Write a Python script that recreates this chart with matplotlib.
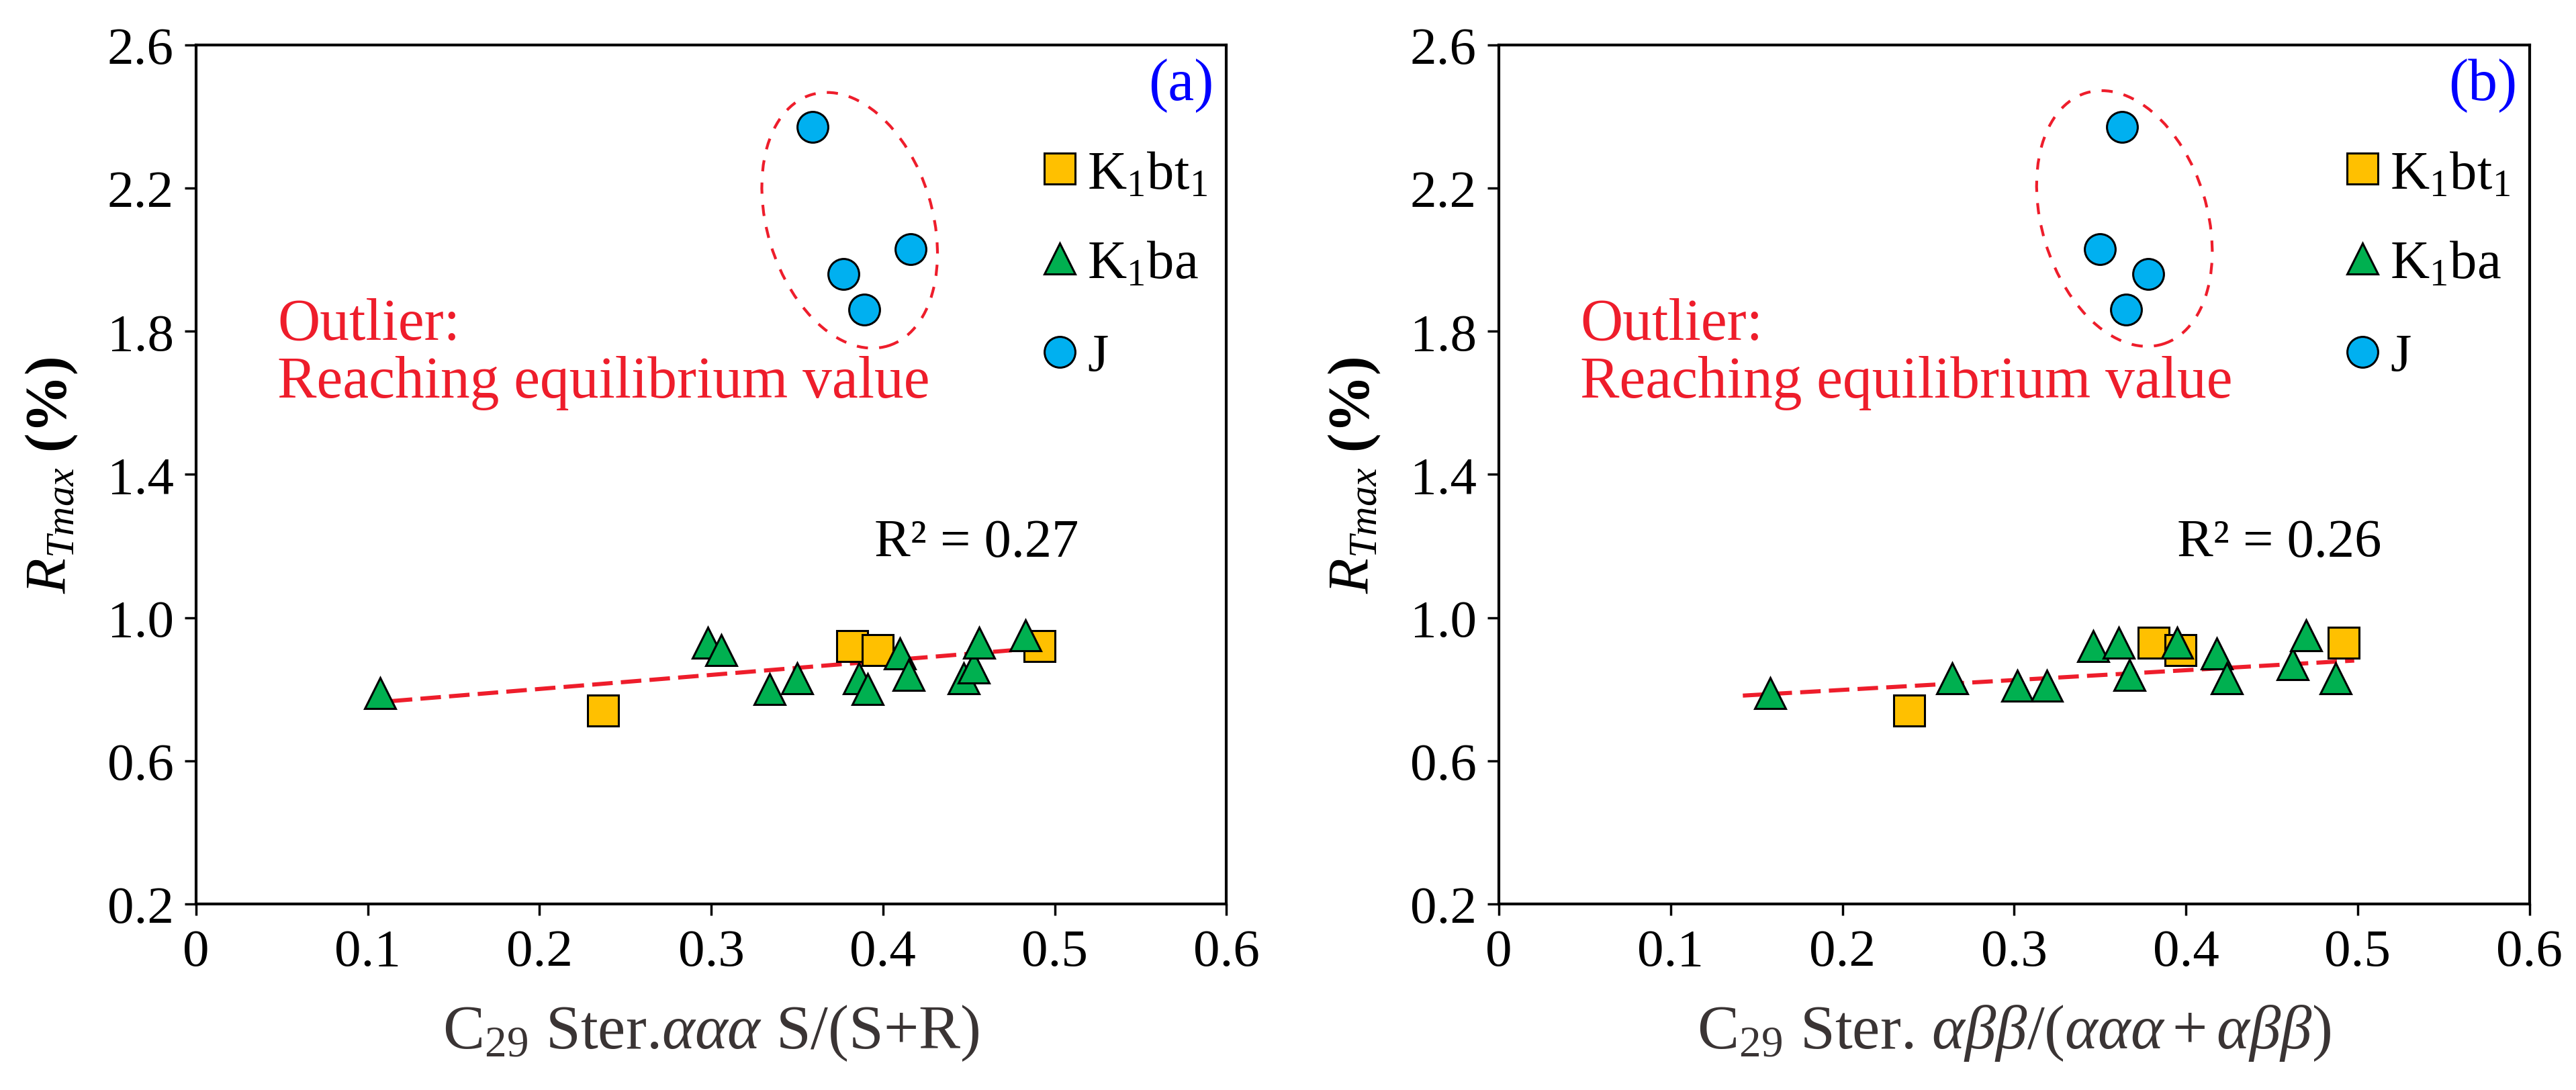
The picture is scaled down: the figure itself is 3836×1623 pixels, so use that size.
import numpy as np
import matplotlib
matplotlib.use("Agg")
import matplotlib.pyplot as plt
from matplotlib.patches import Ellipse
from matplotlib.transforms import ScaledTranslation

plt.rcParams['font.family'] = ['Liberation Serif', 'DejaVu Serif']
plt.rcParams['mathtext.fontset'] = 'custom'
plt.rcParams['mathtext.rm'] = 'Liberation Serif'
plt.rcParams['mathtext.it'] = 'Liberation Serif:italic'
plt.rcParams['mathtext.bf'] = 'Liberation Serif:bold'

# ---- data ----
# panel (a): C29 Ster. aaa S/(S+R)
a_bt_x = [0.237, 0.382, 0.397, 0.491]
a_bt_y = [0.74, 0.92, 0.91, 0.92]
a_ba_x = [0.107, 0.298, 0.306, 0.334, 0.350, 0.386, 0.391, 0.410, 0.415, 0.447, 0.453, 0.456, 0.483]
a_ba_y = [0.79, 0.93, 0.91, 0.80, 0.83, 0.83, 0.80, 0.90, 0.84, 0.83, 0.86, 0.93, 0.95]
a_j_x = [0.359, 0.416, 0.377, 0.389]
a_j_y = [2.37, 2.03, 1.96, 1.86]
a_fit = [0.393, 0.722]        # slope, intercept
a_fit_range = [0.114, 0.475]
a_r2 = "0.27"

# panel (b): C29 Ster. abb/(aaa+abb)
b_bt_x = [0.239, 0.381, 0.397, 0.492]
b_bt_y = [0.74, 0.93, 0.91, 0.93]
b_ba_x = [0.158, 0.264, 0.302, 0.319, 0.346, 0.361, 0.367, 0.395, 0.418, 0.424, 0.462, 0.470, 0.487]
b_ba_y = [0.79, 0.83, 0.81, 0.81, 0.92, 0.93, 0.84, 0.93, 0.90, 0.83, 0.87, 0.95, 0.83]
b_j_x = [0.363, 0.350, 0.378, 0.365]
b_j_y = [2.37, 2.03, 1.96, 1.86]
b_fit = [0.275, 0.743]
b_fit_range = [0.142, 0.498]
b_r2 = "0.26"

x_ticks = [0, 0.1, 0.2, 0.3, 0.4, 0.5, 0.6]
x_ticklabels = ["0", "0.1", "0.2", "0.3", "0.4", "0.5", "0.6"]
y_ticks = [0.2, 0.6, 1.0, 1.4, 1.8, 2.2, 2.6]
y_ticklabels = ["0.2", "0.6", "1.0", "1.4", "1.8", "2.2", "2.6"]

c_sq = '#FFC000'
c_tri = '#00B050'
c_circ = '#00B0F0'
c_red = '#EE1D2B'

fig = plt.figure(figsize=(38.36, 16.24), dpi=100)
ax_a = fig.add_axes([0.0761, 0.1706, 0.4, 0.7876])
ax_b = fig.add_axes([0.5819, 0.1706, 0.4, 0.7876])

ms = 33
mew = 2.2


def draw_panel(ax, bt_x, bt_y, ba_x, ba_y, j_x, j_y, fit, fit_range, r2, ell_c, tag, xlabel):
    xs = np.array(fit_range)
    ax.plot(xs, fit[0] * xs + fit[1], color=c_red, lw=4.4, ls=(0, (5, 2)), zorder=2)
    ax.plot(bt_x, bt_y, 's', ms=ms, mfc=c_sq, mec='black', mew=mew, ls='none', zorder=3)
    ax.plot(ba_x, ba_y, '^', ms=ms, mfc=c_tri, mec='black', mew=mew, ls='none', zorder=4)
    ax.plot(j_x, j_y, 'o', ms=ms, mfc=c_circ, mec='black', mew=mew, ls='none', zorder=5)

    # dashed ellipse round the outliers (size in inches so it keeps its shape)
    trans = fig.dpi_scale_trans + ScaledTranslation(ell_c[0], ell_c[1], ax.transData)
    ax.add_patch(Ellipse((0, 0), 2.46, 3.91, angle=17, transform=trans, fill=False,
                         edgecolor=c_red, lw=3, ls=(0, (4, 4)), zorder=1))

    ax.text(0.079, 0.658, "Outlier:", transform=ax.transAxes, color=c_red, fontsize=63)
    ax.text(0.079, 0.590, "Reaching equilibrium value", transform=ax.transAxes,
            color=c_red, fontsize=63)
    ax.text(0.658, 0.405, "R² = " + r2, transform=ax.transAxes, fontsize=58)
    ax.text(0.988, 0.953, tag, transform=ax.transAxes, color='#0000FF', fontsize=63,
            ha='right', va='center')

    # legend drawn by hand
    leg = [('s', c_sq, r"K$_1$bt$_1$"), ('^', c_tri, r"K$_1$ba"), ('o', c_circ, "J")]
    leg_y = [0.856, 0.751, 0.643]
    leg_base = [0.833, 0.729, 0.621]
    for (m, c, lab), yy, yb in zip(leg, leg_y, leg_base):
        ax.plot([0.838], [yy], m, ms=ms, mfc=c, mec='black', mew=mew,
                transform=ax.transAxes, clip_on=False)
        ax.text(0.865, yb, lab, transform=ax.transAxes, fontsize=58)

    ax.set_xlim(0, 0.6)
    ax.set_ylim(0.2, 2.6)
    ax.set_xticks(x_ticks)
    ax.set_xticklabels(x_ticklabels)
    ax.set_yticks(y_ticks)
    ax.set_yticklabels(y_ticklabels)
    ax.tick_params(direction='out', length=12, width=2.5, labelsize=57)
    ax.tick_params(axis='x', pad=14)
    ax.tick_params(axis='y', pad=12)
    for s in ax.spines.values():
        s.set_linewidth(3)
    ax.set_xlabel(xlabel, fontsize=67, color='#3A3434')
    ax.xaxis.set_label_coords(0.5, -0.115)
    ax.set_ylabel(r"$\mathit{R}_{\mathit{Tmax}}$ $\mathbf{(\%)}$", fontsize=62)
    ax.yaxis.set_label_coords(-0.113, 0.5)


draw_panel(ax_a, a_bt_x, a_bt_y, a_ba_x, a_ba_y, a_j_x, a_j_y, a_fit, a_fit_range, a_r2,
           (0.3806, 2.110), "(a)", r"C$_{29}$ Ster.$\mathit{ααα}$ S/(S+R)")
draw_panel(ax_b, b_bt_x, b_bt_y, b_ba_x, b_ba_y, b_j_x, b_j_y, b_fit, b_fit_range, b_r2,
           (0.3642, 2.115), "(b)", r"C$_{29}$ Ster. $\mathit{αββ/(ααα+αββ)}$")

fig.savefig("out.png", dpi=100)
